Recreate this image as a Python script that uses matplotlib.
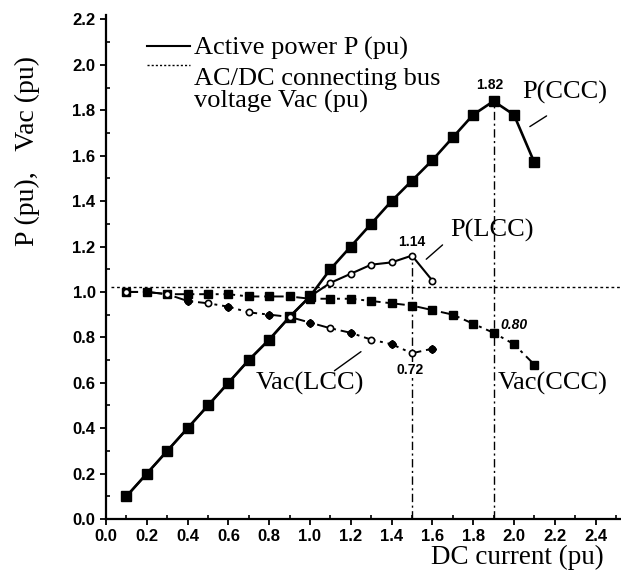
import matplotlib
matplotlib.use('Agg')
import matplotlib.pyplot as plt
from matplotlib.lines import Line2D
from matplotlib.legend_handler import HandlerLine2D
from matplotlib.ticker import MultipleLocator, FormatStrFormatter

# DC current (pu)
i_ccc = [0.1, 0.2, 0.3, 0.4, 0.5, 0.6, 0.7, 0.8, 0.9, 1.0, 1.1,
         1.2, 1.3, 1.4, 1.5, 1.6, 1.7, 1.8, 1.9, 2.0, 2.1]
i_lcc = [0.1, 0.2, 0.3, 0.4, 0.5, 0.6, 0.7, 0.8, 0.9, 1.0, 1.1,
         1.2, 1.3, 1.4, 1.5, 1.6]

# active power P (pu)
p_ccc = [0.10, 0.20, 0.30, 0.40, 0.50, 0.60, 0.70, 0.79, 0.89, 0.98, 1.10,
         1.20, 1.30, 1.40, 1.49, 1.58, 1.68, 1.78, 1.84, 1.78, 1.57]
p_lcc = [0.10, 0.20, 0.30, 0.40, 0.50, 0.60, 0.70, 0.79, 0.89, 0.98, 1.04,
         1.08, 1.12, 1.13, 1.16, 1.05]

# AC/DC connecting bus voltage Vac (pu)
vac_ccc = [1.00, 1.00, 0.99, 0.99, 0.99, 0.99, 0.98, 0.98, 0.98, 0.97, 0.97,
           0.97, 0.96, 0.95, 0.94, 0.92, 0.90, 0.86, 0.82, 0.77, 0.68]
vac_lcc = [1.00, 1.00, 0.99, 0.96, 0.95, 0.935, 0.91, 0.90, 0.89, 0.865, 0.84,
           0.82, 0.79, 0.77, 0.73, 0.75]

vac_ref = 1.02

x_ticks = [0.0, 0.2, 0.4, 0.6, 0.8, 1.0, 1.2, 1.4, 1.6, 1.8, 2.0, 2.2, 2.4]
y_ticks = [0.0, 0.2, 0.4, 0.6, 0.8, 1.0, 1.2, 1.4, 1.6, 1.8, 2.0, 2.2]

serif = 'Liberation Serif'
sans = 'Liberation Sans'


# legend handle that sits level with the first line of a two-line label
class RaisedLine(HandlerLine2D):
    def __init__(self, dy, **kw):
        super().__init__(**kw)
        self.dy = dy

    def create_artists(self, legend, orig_handle, xdescent, ydescent,
                       width, height, fontsize, trans):
        return super().create_artists(legend, orig_handle, xdescent, ydescent - self.dy,
                                      width, height, fontsize, trans)


fig = plt.figure(figsize=(6.21, 5.71), dpi=100)
ax = fig.add_axes([0.1707, 0.091, 0.8277, 0.883])

dashdot = (0, (6, 2.5, 1.5, 2.5))

# reference line
ax.axhline(vac_ref, xmin=0.01, xmax=1.0, color='black', lw=1.0, ls=(0, (2, 2)), zorder=1)

# vertical markers at the power peaks
k_l = p_lcc.index(max(p_lcc))
k_c = p_ccc.index(max(p_ccc))
ax.vlines([i_lcc[k_l], i_ccc[k_c]], 0, [p_lcc[k_l], p_ccc[k_c]],
          color='black', lw=1.0, linestyles=[dashdot], zorder=1)

# P(LCC)
ax.plot(i_lcc, p_lcc, color='black', lw=1.5, marker='o', ms=4.5,
        mfc='white', mec='black', mew=1.2, zorder=2)
# P(CCC)
ax.plot(i_ccc, p_ccc, color='black', lw=1.9, marker='s', ms=6.5, zorder=3)
# Vac(CCC)
ax.plot(i_ccc, vac_ccc, color='black', lw=1.4, ls=dashdot, marker='s', ms=6, zorder=3)
# Vac(LCC)
ax.plot(i_lcc, vac_lcc, color='black', lw=1.4, ls=dashdot, marker='o', ms=4.5,
        mfc='white', mec='black', mew=1.2, zorder=3)
ax.plot(i_lcc, vac_lcc, ls='none', marker='D', ms=4, color='black',
        markevery=slice(1, None, 2), zorder=4)

# labels on the peaks / minima
num_kw = dict(fontsize=10, family=sans, fontweight='bold', ha='center', va='center',
              bbox=dict(facecolor='white', edgecolor='none', pad=0.5), zorder=5)
ax.text(i_ccc[k_c] - 0.02, 1.91, '%.2f' % 1.82, **num_kw)
ax.text(i_lcc[k_l], 1.22, '%.2f' % 1.14, **num_kw)
ax.text(2.0, 0.855, '0.80', style='italic', **num_kw)
ax.text(1.49, 0.656, '0.72', **num_kw)

# curve names
name_kw = dict(fontsize=19, family=serif, ha='center', va='center')
ax.text(2.25, 1.88, 'P(CCC)', **name_kw)
ax.text(1.89, 1.27, 'P(LCC)', **name_kw)
ax.text(1.0, 0.595, 'Vac(LCC)', **name_kw)
ax.text(2.19, 0.595, 'Vac(CCC)', bbox=dict(facecolor='white', edgecolor='none', pad=1),
        zorder=5, **name_kw)

# leader lines
leader = dict(arrowstyle='-', lw=1.0, shrinkA=0, shrinkB=0)
ax.annotate('', xy=(2.078, 1.728), xytext=(2.16, 1.775), arrowprops=leader)
ax.annotate('', xy=(1.57, 1.144), xytext=(1.65, 1.207), arrowprops=leader)
ax.annotate('', xy=(1.12, 0.653), xytext=(1.25, 0.737), arrowprops=leader)

# legend
h_p = Line2D([], [], color='black', lw=1.5)
h_v = Line2D([], [], color='black', lw=1.0, ls=(0, (1.5, 1.5)))
leg = ax.legend([h_p, h_v], ['Active power P (pu)', 'AC/DC connecting bus\nvoltage Vac (pu)'],
                loc='upper left', bbox_to_anchor=(0.06, 0.978), frameon=False,
                prop=dict(family=serif, size=19), handlelength=1.6, handletextpad=0.15,
                labelspacing=0.3, borderaxespad=0,
                handler_map={h_v: RaisedLine(36)})
for t in leg.get_texts():
    t.set_linespacing(0.95)

# axes
ax.set_xticks(x_ticks)
ax.set_yticks(y_ticks)
ax.xaxis.set_minor_locator(MultipleLocator(0.1))
ax.yaxis.set_minor_locator(MultipleLocator(0.1))
ax.set_xlim(0, 2.52)
ax.set_ylim(0, 2.22)
ax.xaxis.set_major_formatter(FormatStrFormatter('%.1f'))
ax.yaxis.set_major_formatter(FormatStrFormatter('%.1f'))
ax.tick_params(which='major', direction='out', length=4, width=1.3,
               labelsize=12)
ax.tick_params(which='minor', direction='in', length=3, width=1.2)
for lab in ax.get_xticklabels() + ax.get_yticklabels():
    lab.set_family(sans)
    lab.set_fontweight('bold')

for s in ['top', 'right']:
    ax.spines[s].set_visible(False)
for s in ['left', 'bottom']:
    ax.spines[s].set_linewidth(1.6)

ax.set_xlabel('DC current (pu)', family=serif, fontsize=19.5, va='center', ha='center')
ax.xaxis.set_label_coords(0.80, -0.077)
ax.set_ylabel('P (pu),   Vac (pu)', family=serif, fontsize=20, va='center', ha='center')
ax.yaxis.set_label_coords(-0.152, 0.73)

fig.savefig('out.png', dpi=100)
